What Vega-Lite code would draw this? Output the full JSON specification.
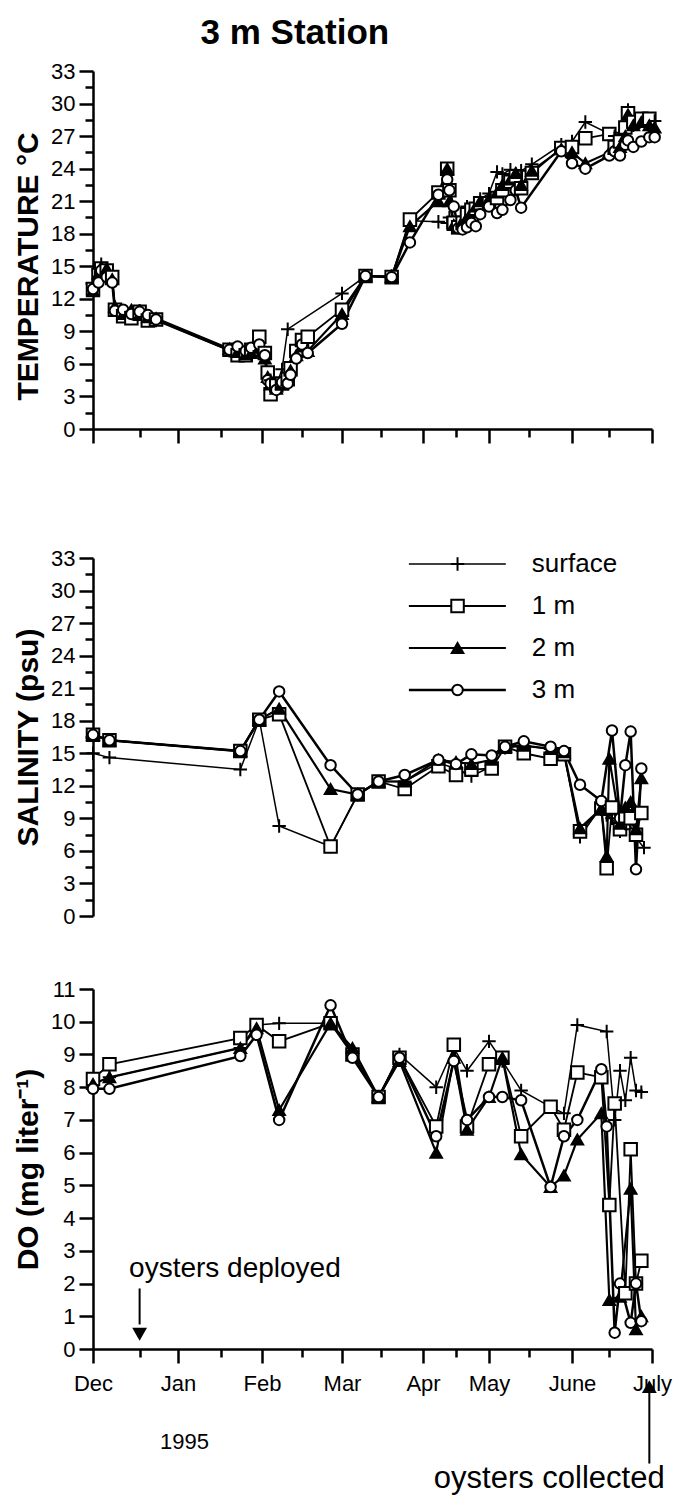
{
  "$schema": "https://vega.github.io/schema/vega-lite/v6.json",
  "background": "white",
  "padding": {"left": 13, "top": 16, "right": 2, "bottom": 2},
  "title": {"text": "3 m Station", "font": "Liberation Sans", "fontSize": 35, "fontWeight": "bold", "color": "black", "anchor": "start", "dx": 187, "offset": 9},
  "datasets": {
    "temp": [
      {"day": 0, "surface": 13.0, "1 m": 12.9, "2 m": 12.7, "3 m": 12.9},
      {"day": 2, "surface": 14.6, "1 m": 14.2, "2 m": 14.3, "3 m": 13.5},
      {"day": 3, "surface": 15.2, "1 m": 14.8, "2 m": 14.9, "3 m": 14.6},
      {"day": 5, "surface": 14.5, "1 m": 14.6, "2 m": 14.8, "3 m": 14.0},
      {"day": 7, "surface": 13.6, "1 m": 14.0, "2 m": 13.8, "3 m": 13.5},
      {"day": 8, "surface": 11.2, "1 m": 11.0, "2 m": 11.3, "3 m": 10.9},
      {"day": 11, "surface": 10.5, "1 m": 10.4, "2 m": 10.6, "3 m": 11.0},
      {"day": 14, "surface": 10.8, "1 m": 10.2, "2 m": 11.0, "3 m": 10.6},
      {"day": 17, "surface": 10.9, "1 m": 10.8, "2 m": 10.5, "3 m": 10.8},
      {"day": 20, "surface": 10.4, "1 m": 10.0, "2 m": 10.3, "3 m": 10.5},
      {"day": 23, "surface": 10.0, "1 m": 10.1, "2 m": 10.2, "3 m": 10.1},
      {"day": 50, "surface": 7.2, "1 m": 7.3, "2 m": 7.4, "3 m": 7.3},
      {"day": 53, "surface": 7.0, "1 m": 6.8, "2 m": 7.1, "3 m": 7.6},
      {"day": 56, "surface": 7.0, "1 m": 6.8, "2 m": 6.9, "3 m": 7.2},
      {"day": 58, "surface": 6.9, "1 m": 7.3, "2 m": 7.0, "3 m": 7.5},
      {"day": 61, "surface": 7.2, "1 m": 8.5, "2 m": 7.5, "3 m": 7.8},
      {"day": 63, "surface": 6.8, "1 m": 7.0, "2 m": 6.5, "3 m": 6.8},
      {"day": 64, "surface": 5.0, "1 m": 5.2, "2 m": 4.8, "3 m": 4.5},
      {"day": 65, "surface": 4.5, "1 m": 3.2, "2 m": 4.1, "3 m": 4.2},
      {"day": 67, "surface": 4.0, "1 m": 4.0, "2 m": 3.7, "3 m": 3.6},
      {"day": 69, "surface": 5.5, "1 m": 4.2, "2 m": 4.2, "3 m": 4.3},
      {"day": 71, "surface": 9.2, "1 m": 4.6, "2 m": 4.5, "3 m": 4.2},
      {"day": 72, "surface": null, "1 m": 5.6, "2 m": 5.4, "3 m": 5.0},
      {"day": 74, "surface": null, "1 m": 7.2, "2 m": 6.8, "3 m": 6.5},
      {"day": 76, "surface": null, "1 m": 8.2, "2 m": 7.6, "3 m": 7.8},
      {"day": 78, "surface": null, "1 m": 8.5, "2 m": 7.2, "3 m": 7.0},
      {"day": 90, "surface": 12.5, "1 m": 11.0, "2 m": 10.6, "3 m": 9.7},
      {"day": 99, "surface": 14.1, "1 m": 14.1, "2 m": 14.1, "3 m": 14.1},
      {"day": 109, "surface": 14.1, "1 m": 14.0, "2 m": 14.0, "3 m": 14.0},
      {"day": 116, "surface": 19.2, "1 m": 19.3, "2 m": 18.7, "3 m": 17.2},
      {"day": 128, "surface": 19.1, "1 m": 21.8, "2 m": 21.0, "3 m": 21.6},
      {"day": 132, "surface": 19.0, "1 m": 24.0, "2 m": 24.0, "3 m": 23.0},
      {"day": 133, "surface": 19.5, "1 m": 22.0, "2 m": 21.0, "3 m": 22.0},
      {"day": 135, "surface": 18.6, "1 m": 19.0, "2 m": 18.8, "3 m": 20.5},
      {"day": 137, "surface": 18.8, "1 m": 18.6, "2 m": 18.5, "3 m": 18.5},
      {"day": 139, "surface": 19.4, "1 m": 19.0, "2 m": 19.2, "3 m": 18.4},
      {"day": 141, "surface": 20.5, "1 m": 19.8, "2 m": 19.5, "3 m": 18.6},
      {"day": 143, "surface": 19.8, "1 m": 20.2, "2 m": 20.0, "3 m": 19.0},
      {"day": 145, "surface": 20.6, "1 m": 20.3, "2 m": 20.5, "3 m": 18.7},
      {"day": 147, "surface": 21.2, "1 m": 20.8, "2 m": 21.0, "3 m": 19.8},
      {"day": 151, "surface": 21.7, "1 m": 20.8, "2 m": 21.2, "3 m": 20.5},
      {"day": 154, "surface": 23.7, "1 m": 21.3, "2 m": 21.8, "3 m": 19.9},
      {"day": 156, "surface": 23.5, "1 m": 22.0, "2 m": 22.5, "3 m": 20.2},
      {"day": 159, "surface": 23.9, "1 m": 22.8, "2 m": 23.0, "3 m": 21.1},
      {"day": 161, "surface": 23.5, "1 m": 23.3, "2 m": 23.6, "3 m": 22.0},
      {"day": 163, "surface": 23.8, "1 m": 22.2, "2 m": 22.5, "3 m": 20.4},
      {"day": 167, "surface": 24.4, "1 m": 23.6, "2 m": 23.8, "3 m": null},
      {"day": 178, "surface": 26.2, "1 m": 25.9, "2 m": 25.8, "3 m": 25.6},
      {"day": 182, "surface": 26.5, "1 m": 26.0, "2 m": 25.5, "3 m": 24.5},
      {"day": 187, "surface": 28.3, "1 m": 26.8, "2 m": 24.5, "3 m": 24.0},
      {"day": 196, "surface": 27.2, "1 m": 27.2, "2 m": 25.5, "3 m": 25.2},
      {"day": 198, "surface": 27.0, "1 m": 26.0, "2 m": 25.8, "3 m": 25.6},
      {"day": 200, "surface": 27.3, "1 m": 26.5, "2 m": 26.0, "3 m": 25.2},
      {"day": 202, "surface": 27.5, "1 m": 27.8, "2 m": 27.0, "3 m": 26.2},
      {"day": 203, "surface": 29.4, "1 m": 29.1, "2 m": 29.0, "3 m": 26.6},
      {"day": 205, "surface": 28.0, "1 m": 28.3, "2 m": 28.0, "3 m": 26.0},
      {"day": 208, "surface": 28.5, "1 m": 28.6, "2 m": 28.3, "3 m": 26.5},
      {"day": 211, "surface": 28.0, "1 m": 28.6, "2 m": 28.0, "3 m": 26.9},
      {"day": 213, "surface": 28.4, "1 m": null, "2 m": 27.8, "3 m": 26.9}
    ],
    "sal": [
      {"day": 0, "surface": 15.0, "1 m": 16.7, "2 m": 16.7, "3 m": 16.7},
      {"day": 6, "surface": 14.6, "1 m": 16.2, "2 m": 16.2, "3 m": 16.2},
      {"day": 54, "surface": 13.5, "1 m": 15.2, "2 m": 15.2, "3 m": 15.2},
      {"day": 61, "surface": 18.1, "1 m": 18.1, "2 m": 18.1, "3 m": 18.1},
      {"day": 68, "surface": 8.3, "1 m": 18.6, "2 m": 19.1, "3 m": 20.7},
      {"day": 86, "surface": 6.4, "1 m": 6.4, "2 m": 11.7, "3 m": 13.9},
      {"day": 96, "surface": 11.2, "1 m": 11.2, "2 m": 11.2, "3 m": 11.2},
      {"day": 104, "surface": 12.4, "1 m": 12.4, "2 m": 12.4, "3 m": 12.4},
      {"day": 114, "surface": 12.4, "1 m": 11.7, "2 m": 12.4, "3 m": 13.0},
      {"day": 128, "surface": 14.1, "1 m": 13.8, "2 m": 14.4, "3 m": 14.4},
      {"day": 136, "surface": 13.6, "1 m": 13.0, "2 m": 14.2, "3 m": 14.0},
      {"day": 143, "surface": 12.9, "1 m": 13.5, "2 m": 14.0, "3 m": 14.9},
      {"day": 152, "surface": 13.8, "1 m": 13.6, "2 m": 14.4, "3 m": 14.8},
      {"day": 157, "surface": 15.5, "1 m": 15.6, "2 m": 15.6, "3 m": 15.6},
      {"day": 164, "surface": 15.7, "1 m": 15.0, "2 m": 15.7, "3 m": 16.1},
      {"day": 174, "surface": 15.4, "1 m": 14.5, "2 m": 15.4, "3 m": 15.6},
      {"day": 179, "surface": 15.0, "1 m": 14.9, "2 m": 15.1, "3 m": 15.2},
      {"day": 185, "surface": 7.3, "1 m": 7.8, "2 m": 8.1, "3 m": 12.1},
      {"day": 193, "surface": 10.1, "1 m": 9.9, "2 m": 9.9, "3 m": 10.6},
      {"day": 195, "surface": 9.3, "1 m": 4.4, "2 m": 5.5, "3 m": null},
      {"day": 196, "surface": null, "1 m": null, "2 m": 14.5, "3 m": null},
      {"day": 197, "surface": 9.0, "1 m": 10.0, "2 m": null, "3 m": 17.1},
      {"day": 200, "surface": 7.8, "1 m": 8.0, "2 m": 8.5, "3 m": 9.0},
      {"day": 202, "surface": 9.5, "1 m": 9.2, "2 m": 10.0, "3 m": 13.9},
      {"day": 204, "surface": 8.0, "1 m": 9.0, "2 m": 10.5, "3 m": 17.0},
      {"day": 206, "surface": 7.2, "1 m": 7.5, "2 m": 8.0, "3 m": 4.3},
      {"day": 208, "surface": null, "1 m": 9.5, "2 m": 12.7, "3 m": 13.6},
      {"day": 209, "surface": 6.3, "1 m": null, "2 m": null, "3 m": null}
    ],
    "do": [
      {"day": 0, "surface": 8.1, "1 m": 8.25, "2 m": 8.1, "3 m": 7.95},
      {"day": 6, "surface": 8.3, "1 m": 8.7, "2 m": 8.3, "3 m": 7.95},
      {"day": 54, "surface": 9.2, "1 m": 9.5, "2 m": 9.2, "3 m": 8.95},
      {"day": 60, "surface": 9.9, "1 m": 9.9, "2 m": 9.8, "3 m": 9.6},
      {"day": 68, "surface": 9.95, "1 m": 9.4, "2 m": 7.3, "3 m": 7.0},
      {"day": 86, "surface": 9.95, "1 m": 9.95, "2 m": 9.95, "3 m": 10.5},
      {"day": 94, "surface": 9.1, "1 m": 9.0, "2 m": 9.2, "3 m": 8.9},
      {"day": 104, "surface": 7.7, "1 m": 7.7, "2 m": 7.7, "3 m": 7.7},
      {"day": 112, "surface": 9.0, "1 m": 8.9, "2 m": 8.8, "3 m": 8.9},
      {"day": 127, "surface": 8.0, "1 m": 6.8, "2 m": 6.0, "3 m": 6.5},
      {"day": 135, "surface": 9.2, "1 m": 9.3, "2 m": 8.9, "3 m": 8.8},
      {"day": 141, "surface": 8.5, "1 m": 6.8, "2 m": 6.7, "3 m": 7.0},
      {"day": 151, "surface": 9.4, "1 m": 8.7, "2 m": 7.7, "3 m": 7.7},
      {"day": 156, "surface": 8.8, "1 m": 8.9, "2 m": 8.9, "3 m": 7.7},
      {"day": 163, "surface": 7.9, "1 m": 6.5, "2 m": 5.95, "3 m": 7.6},
      {"day": 174, "surface": 7.4, "1 m": 7.4, "2 m": 4.95, "3 m": 4.95},
      {"day": 179, "surface": 7.2, "1 m": 6.7, "2 m": 5.3, "3 m": 6.5},
      {"day": 184, "surface": 9.9, "1 m": 8.45, "2 m": 6.4, "3 m": 7.0},
      {"day": 193, "surface": null, "1 m": 8.3, "2 m": 7.2, "3 m": 8.55},
      {"day": 195, "surface": 9.7, "1 m": null, "2 m": null, "3 m": 6.8},
      {"day": 196, "surface": null, "1 m": 4.4, "2 m": 1.5, "3 m": null},
      {"day": 198, "surface": 7.0, "1 m": 7.5, "2 m": null, "3 m": 0.5},
      {"day": 200, "surface": 8.5, "1 m": null, "2 m": 1.6, "3 m": 2.0},
      {"day": 202, "surface": 7.6, "1 m": 1.7, "2 m": null, "3 m": null},
      {"day": 204, "surface": 8.9, "1 m": 6.1, "2 m": 4.9, "3 m": 0.8},
      {"day": 206, "surface": 7.9, "1 m": 2.0, "2 m": 0.6, "3 m": 2.0},
      {"day": 208, "surface": 7.85, "1 m": 2.7, "2 m": 1.0, "3 m": 0.85}
    ],
    "notes": [
      {"day": 52, "v": 2.45, "label": "oysters deployed"},
      {"day": 173.5, "v": -3.98, "label": "oysters collected"}
    ],
    "arrows": [
      {"day": 17, "v": 1.85, "v2": 0.75},
      {"day": 211, "v": -1.3, "v2": -3.5}
    ],
    "legend": [
      {"depth": "surface"}, {"depth": "1 m"}, {"depth": "2 m"}, {"depth": "3 m"}
    ]
  },
  "spacing": 102,
  "vconcat": [
    {
      "width": 559,
      "height": 358,
      "encoding": {
        "x": {"field": "day", "type": "quantitative",
          "scale": {"domain": [0, 31, 62, 90, 121, 151, 182, 212], "range": [0, 85, 169, 249, 330, 396, 479, 559], "nice": false, "zero": false},
          "axis": {"title": null, "labels": false,
            "values": [0, 17, 31, 47, 62, 76, 90, 105, 121, 136, 151, 166, 182, 196, 212],
            "tickSize": {"condition": {"test": "indexof([0,31,62,90,121,151,182,212], datum.value) >= 0", "value": 14}, "value": 8}}},
        "y": {"field": "v", "type": "quantitative",
          "scale": {"domain": [0, 33], "nice": false},
          "axis": {"title": "TEMPERATURE °C", "titleY": 195, "format": "d",
            "values": [0, 1.5, 3, 4.5, 6, 7.5, 9, 10.5, 12, 13.5, 15, 16.5, 18, 19.5, 21, 22.5, 24, 25.5, 27, 28.5, 30, 31.5, 33],
            "labelExpr": "datum.value % 3 === 0 ? datum.label : ''",
            "tickSize": {"condition": {"test": "datum.value % 3 === 0", "value": 14}, "value": 8}}}
      },
      "layer": [
        {
          "data": {"name": "temp"},
          "transform": [{"fold": ["surface", "1 m", "2 m", "3 m"], "as": ["depth", "v"]}, {"filter": "isValid(datum.v)"}],
          "mark": {"type": "line", "color": "black"},
          "encoding": {
            "detail": {"field": "depth"},
            "strokeWidth": {"field": "depth", "type": "nominal", "scale": {"domain": ["surface", "1 m", "2 m", "3 m"], "range": [1.5, 2.5, 2.5, 2.5]}, "legend": null}
          }
        },
        {
          "data": {"name": "temp"},
          "transform": [{"fold": ["surface", "1 m", "2 m", "3 m"], "as": ["depth", "v"]}, {"filter": "isValid(datum.v)"}],
          "mark": {"type": "point", "filled": true, "stroke": "black", "strokeWidth": 2, "opacity": 1},
          "encoding": {
            "shape": {"field": "depth", "type": "nominal", "scale": {"domain": ["surface", "1 m", "2 m", "3 m"], "range": ["M-1,0H1M0,-1V1", "square", "triangle-up", "circle"]}, "legend": null},
            "fill": {"field": "depth", "type": "nominal", "scale": {"domain": ["surface", "1 m", "2 m", "3 m"], "range": ["transparent", "white", "black", "white"]}, "legend": null},
            "size": {"field": "depth", "type": "nominal", "scale": {"domain": ["surface", "1 m", "2 m", "3 m"], "range": [180, 110, 130, 100]}, "legend": null}
          }
        }
      ]
    },
    {
      "spacing": 51,
      "vconcat": [
        {
          "width": 559,
          "height": 358,
          "resolve": {"scale": {"y": "independent"}},
          "layer": [
            {
              "encoding": {
                "x": {"field": "day", "type": "quantitative",
                  "scale": {"domain": [0, 31, 62, 90, 121, 151, 182, 212], "range": [0, 85, 169, 249, 330, 396, 479, 559], "nice": false, "zero": false},
                  "axis": {"title": null, "labels": false,
                    "values": [0, 17, 31, 47, 62, 76, 90, 105, 121, 136, 151, 166, 182, 196, 212],
                    "tickSize": {"condition": {"test": "indexof([0,31,62,90,121,151,182,212], datum.value) >= 0", "value": 14}, "value": 8}}},
                "y": {"field": "v", "type": "quantitative",
                  "scale": {"domain": [0, 33], "nice": false},
                  "axis": {"title": "SALINITY (psu)", "format": "d",
                    "values": [0, 1.5, 3, 4.5, 6, 7.5, 9, 10.5, 12, 13.5, 15, 16.5, 18, 19.5, 21, 22.5, 24, 25.5, 27, 28.5, 30, 31.5, 33],
                    "labelExpr": "datum.value % 3 === 0 ? datum.label : ''",
                    "tickSize": {"condition": {"test": "datum.value % 3 === 0", "value": 14}, "value": 8}}}
              },
              "layer": [
                {
                  "data": {"name": "sal"},
                  "transform": [{"fold": ["surface", "1 m", "2 m", "3 m"], "as": ["depth", "v"]}, {"filter": "isValid(datum.v)"}],
                  "mark": {"type": "line", "color": "black"},
                  "encoding": {
                    "detail": {"field": "depth"},
                    "strokeWidth": {"field": "depth", "type": "nominal", "scale": {"domain": ["surface", "1 m", "2 m", "3 m"], "range": [1.5, 2.5, 2.5, 2.5]}, "legend": null}
                  }
                },
                {
                  "data": {"name": "sal"},
                  "transform": [{"fold": ["surface", "1 m", "2 m", "3 m"], "as": ["depth", "v"]}, {"filter": "isValid(datum.v)"}],
                  "mark": {"type": "point", "filled": true, "stroke": "black", "strokeWidth": 2, "opacity": 1},
                  "encoding": {
                    "shape": {"field": "depth", "type": "nominal", "scale": {"domain": ["surface", "1 m", "2 m", "3 m"], "range": ["M-1,0H1M0,-1V1", "square", "triangle-up", "circle"]}, "legend": null},
                    "fill": {"field": "depth", "type": "nominal", "scale": {"domain": ["surface", "1 m", "2 m", "3 m"], "range": ["transparent", "white", "black", "white"]}, "legend": null},
                    "size": {"field": "depth", "type": "nominal", "scale": {"domain": ["surface", "1 m", "2 m", "3 m"], "range": [180, 110, 130, 100]}, "legend": null}
                  }
                }
              ]
            },
            {
              "data": {"name": "legend"},
              "encoding": {
                "y": {"field": "depth", "type": "nominal", "scale": {"type": "point", "domain": ["surface", "1 m", "2 m", "3 m"], "range": [6, 132], "padding": 0}, "axis": null}
              },
              "layer": [
                {
                  "mark": {"type": "rule", "color": "black"},
                  "encoding": {
                    "x": {"datum": 115.6, "type": "quantitative", "axis": null},
                    "x2": {"datum": 157.3},
                    "strokeWidth": {"field": "depth", "type": "nominal", "scale": {"domain": ["surface", "1 m", "2 m", "3 m"], "range": [1.5, 2.5, 2.5, 2.5]}, "legend": null}
                  }
                },
                {
                  "mark": {"type": "point", "filled": true, "stroke": "black", "strokeWidth": 2, "opacity": 1},
                  "encoding": {
                    "x": {"datum": 136.7, "type": "quantitative", "axis": null},
                    "shape": {"field": "depth", "type": "nominal", "scale": {"domain": ["surface", "1 m", "2 m", "3 m"], "range": ["M-1,0H1M0,-1V1", "square", "triangle-up", "circle"]}, "legend": null},
                    "fill": {"field": "depth", "type": "nominal", "scale": {"domain": ["surface", "1 m", "2 m", "3 m"], "range": ["transparent", "white", "black", "white"]}, "legend": null},
                    "size": {"field": "depth", "type": "nominal", "scale": {"domain": ["surface", "1 m", "2 m", "3 m"], "range": [180, 110, 130, 100]}, "legend": null}
                  }
                },
                {
                  "mark": {"type": "text", "font": "Liberation Sans", "fontSize": 26, "color": "black", "align": "left", "baseline": "middle"},
                  "encoding": {
                    "x": {"datum": 167, "type": "quantitative", "axis": null},
                    "text": {"field": "depth"}
                  }
                }
              ]
            }
          ]
        },
        {
          "width": 559,
          "height": 360,
          "encoding": {
            "x": {"field": "day", "type": "quantitative",
              "scale": {"domain": [0, 31, 62, 90, 121, 151, 182, 212], "range": [0, 85, 169, 249, 330, 396, 479, 559], "nice": false, "zero": false},
              "axis": {"title": "1995", "titleX": 91, "titleY": 92, "titleAlign": "center", "titleBaseline": "middle", "titleFontWeight": "normal", "titleFontSize": 22,
                "values": [0, 17, 31, 47, 62, 76, 90, 105, 121, 136, 151, 166, 182, 196, 212],
                "labelExpr": "datum.value == 0 ? 'Dec' : datum.value == 31 ? 'Jan' : datum.value == 62 ? 'Feb' : datum.value == 90 ? 'Mar' : datum.value == 121 ? 'Apr' : datum.value == 151 ? 'May' : datum.value == 182 ? 'June' : datum.value == 212 ? 'July' : ''",
                "labelPadding": 10,
                "tickSize": {"condition": {"test": "indexof([0,31,62,90,121,151,182,212], datum.value) >= 0", "value": 14}, "value": 8}}},
            "y": {"field": "v", "type": "quantitative",
              "scale": {"domain": [0, 11], "nice": false},
              "axis": {"title": "DO   (mg liter⁻¹)", "format": "d",
                "values": [0, 0.5, 1, 1.5, 2, 2.5, 3, 3.5, 4, 4.5, 5, 5.5, 6, 6.5, 7, 7.5, 8, 8.5, 9, 9.5, 10, 10.5, 11],
                "labelExpr": "datum.value % 1 === 0 ? datum.label : ''",
                "tickSize": {"condition": {"test": "datum.value % 1 === 0", "value": 14}, "value": 8}}}
          },
          "layer": [
            {
              "data": {"name": "do"},
              "transform": [{"fold": ["surface", "1 m", "2 m", "3 m"], "as": ["depth", "v"]}, {"filter": "isValid(datum.v)"}],
              "mark": {"type": "line", "color": "black"},
              "encoding": {
                "detail": {"field": "depth"},
                "strokeWidth": {"field": "depth", "type": "nominal", "scale": {"domain": ["surface", "1 m", "2 m", "3 m"], "range": [1.5, 2.5, 2.5, 2.5]}, "legend": null}
              }
            },
            {
              "data": {"name": "do"},
              "transform": [{"fold": ["surface", "1 m", "2 m", "3 m"], "as": ["depth", "v"]}, {"filter": "isValid(datum.v)"}],
              "mark": {"type": "point", "filled": true, "stroke": "black", "strokeWidth": 2, "opacity": 1},
              "encoding": {
                "shape": {"field": "depth", "type": "nominal", "scale": {"domain": ["surface", "1 m", "2 m", "3 m"], "range": ["M-1,0H1M0,-1V1", "square", "triangle-up", "circle"]}, "legend": null},
                "fill": {"field": "depth", "type": "nominal", "scale": {"domain": ["surface", "1 m", "2 m", "3 m"], "range": ["transparent", "white", "black", "white"]}, "legend": null},
                "size": {"field": "depth", "type": "nominal", "scale": {"domain": ["surface", "1 m", "2 m", "3 m"], "range": [180, 110, 130, 100]}, "legend": null}
              }
            },
            {
              "data": {"name": "notes"},
              "transform": [{"filter": "datum.label == 'oysters deployed'"}],
              "mark": {"type": "text", "font": "Liberation Sans", "fontSize": 28, "color": "black", "align": "center", "baseline": "middle"},
              "encoding": {"text": {"field": "label"}}
            },
            {
              "data": {"name": "notes"},
              "transform": [{"filter": "datum.label == 'oysters collected'"}],
              "mark": {"type": "text", "font": "Liberation Sans", "fontSize": 31, "color": "black", "align": "center", "baseline": "middle"},
              "encoding": {"text": {"field": "label"}}
            },
            {
              "data": {"name": "arrows"},
              "mark": {"type": "rule", "color": "black", "strokeWidth": 2},
              "encoding": {"y2": {"field": "v2"}}
            },
            {
              "data": {"values": [{"day": 17, "v": 0.45}]},
              "mark": {"type": "point", "shape": "triangle-down", "filled": true, "color": "black", "size": 220, "opacity": 1},
              "encoding": {}
            },
            {
              "data": {"values": [{"day": 211, "v": -1.15}]},
              "mark": {"type": "point", "shape": "triangle-up", "filled": true, "color": "black", "size": 220, "opacity": 1},
              "encoding": {}
            }
          ]
        }
      ]
    }
  ],
  "config": {
    "view": {"stroke": null},
    "font": "Liberation Sans",
    "axis": {"grid": false, "domainColor": "black", "domainWidth": 2.5, "tickColor": "black", "tickWidth": 2.5, "labelColor": "black", "labelFont": "Liberation Sans", "labelFontSize": 22, "labelPadding": 4, "labelOverlap": false, "labelFlush": false, "labelBound": false, "titleColor": "black", "titleFont": "Liberation Sans", "titleFontSize": 30, "titleFontWeight": "bold", "titlePadding": 7}
  }
}
